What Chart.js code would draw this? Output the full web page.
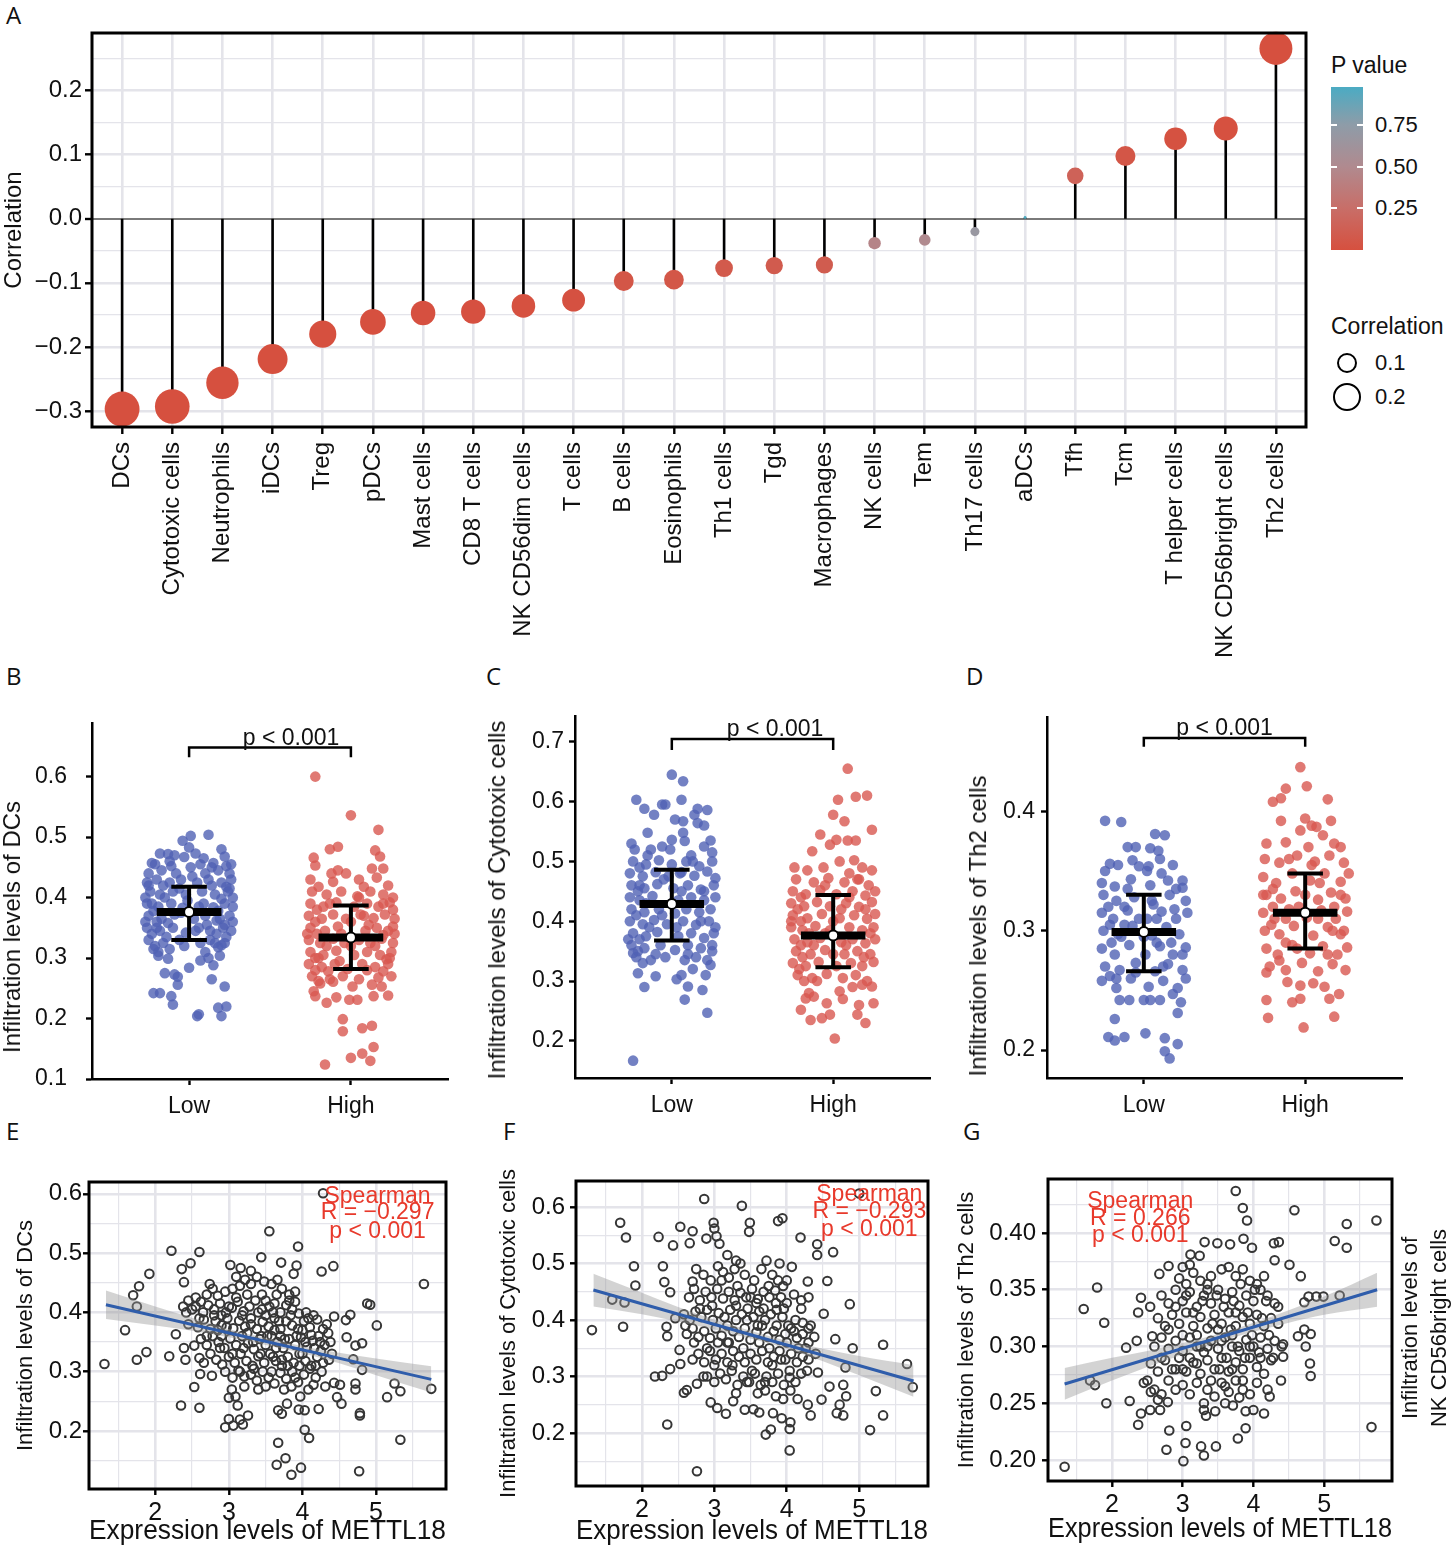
<!DOCTYPE html>
<html>
<head>
<meta charset="utf-8">
<script src="https://cdn.jsdelivr.net/npm/chart.js@4.4.1/dist/chart.umd.min.js"></script>
<style>
body { margin: 0; width: 1453px; height: 1548px; position: relative; background: #fff; overflow: hidden;
       font-family: "Liberation Sans", Arial, sans-serif; color: #111; }
canvas { position: absolute; }
.letter { position: absolute; font-family: "Open Sans", sans-serif; font-size: 24px; line-height: 24px; }
.txt { position: absolute; white-space: nowrap; line-height: 1; transform: translateY(-50%); }
.ytitle { position: absolute; white-space: nowrap; font-size: 24px; line-height: 1; transform: translate(-50%, -50%) rotate(-90deg); }
.tickw { position: absolute; width: 6px; height: 2px; background: #fff; }
</style>
</head>
<body>

<div class="letter" style="left:6px;top:3px">A</div>
<div class="letter" style="left:6px;top:664px">B</div>
<div class="letter" style="left:486px;top:664px">C</div>
<div class="letter" style="left:966px;top:664px">D</div>
<div class="letter" style="left:6px;top:1119px">E</div>
<div class="letter" style="left:503px;top:1119px">F</div>
<div class="letter" style="left:963px;top:1119px">G</div>

<canvas id="cA" width="1320" height="680" style="left:0;top:0"></canvas>
<canvas id="cB" width="470" height="440" style="left:0;top:690px"></canvas>
<canvas id="cC" width="470" height="440" style="left:480px;top:690px"></canvas>
<canvas id="cD" width="493" height="440" style="left:960px;top:690px"></canvas>
<canvas id="cE" width="470" height="418" style="left:0;top:1130px"></canvas>
<canvas id="cF" width="480" height="418" style="left:480px;top:1130px"></canvas>
<canvas id="cG" width="503" height="418" style="left:950px;top:1130px"></canvas>

<!-- legend of panel A -->
<div class="txt" style="left:1331px;top:65px;font-size:23px">P value</div>
<div id="pbar" style="position:absolute;left:1331px;top:87px;width:32px;height:163px"></div>
<div class="tickw" style="left:1331px;top:124px"></div><div class="tickw" style="left:1357px;top:124px"></div>
<div class="tickw" style="left:1331px;top:166px"></div><div class="tickw" style="left:1357px;top:166px"></div>
<div class="tickw" style="left:1331px;top:207px"></div><div class="tickw" style="left:1357px;top:207px"></div>
<div class="txt" style="left:1375px;top:125px;font-size:22px">0.75</div>
<div class="txt" style="left:1375px;top:167px;font-size:22px">0.50</div>
<div class="txt" style="left:1375px;top:208px;font-size:22px">0.25</div>
<div class="txt" style="left:1331px;top:326px;font-size:23px">Correlation</div>
<div id="s1" style="position:absolute;border:2.5px solid #000;border-radius:50%;box-sizing:border-box"></div>
<div id="s2" style="position:absolute;border:2.5px solid #000;border-radius:50%;box-sizing:border-box"></div>
<div class="txt" style="left:1375px;top:363px;font-size:22px">0.1</div>
<div class="txt" style="left:1375px;top:397px;font-size:22px">0.2</div>

<!-- y titles of B, C, D -->
<div class="ytitle" style="left:12px;top:927px">Infiltration levels of DCs</div>
<div class="ytitle" style="left:497px;top:900px">Infiltration levels of Cytotoxic cells</div>
<div class="ytitle" style="left:978px;top:926px">Infiltration levels of Th2 cells</div>

<!-- stray label at the right of G -->
<div class="ytitle" style="left:1410px;top:1328px;font-size:22px">Infiltration levels of</div>
<div class="ytitle" style="left:1439px;top:1328px;font-size:22px">NK CD56bright cells</div>

<script>
// ---------- panel A ----------
const cells = ['DCs', 'Cytotoxic cells', 'Neutrophils', 'iDCs', 'Treg', 'pDCs', 'Mast cells', 'CD8 T cells',
  'NK CD56dim cells', 'T cells', 'B cells', 'Eosinophils', 'Th1 cells', 'Tgd', 'Macrophages', 'NK cells', 'Tem',
  'Th17 cells', 'aDCs', 'Tfh', 'Tcm', 'T helper cells', 'NK CD56bright cells', 'Th2 cells'];
const corr = [-0.297, -0.293, -0.256, -0.219, -0.180, -0.161, -0.147, -0.145, -0.136, -0.127, -0.097, -0.095,
  -0.077, -0.073, -0.072, -0.038, -0.033, -0.020, 0.002, 0.067, 0.098, 0.125, 0.141, 0.266];
const pval = [0.001, 0.001, 0.001, 0.001, 0.001, 0.002, 0.004, 0.004, 0.007, 0.011, 0.05, 0.055,
  0.08, 0.09, 0.10, 0.45, 0.50, 0.68, 0.97, 0.15, 0.05, 0.013, 0.005, 0.001];
const corrTicks = [-0.3, -0.25, -0.2, -0.15, -0.1, -0.05, 0, 0.05, 0.1, 0.15, 0.2, 0.25];
const corrTickLabels = ['\u22120.3', '', '\u22120.2', '', '\u22120.1', '', '0.0', '', '0.1', '', '0.2', ''];
const legendSizes = [0.1, 0.2];

// ---------- panels B, C, D ----------
const groups = ['Low', 'High'];
const dcLow = [[0.01,0.502],[0.12,0.504],[-0.04,0.494],[0,0.483],[-0.18,0.473],[-0.13,0.472],[-0.09,0.470],[-0.03,0.467],[0.04,0.473],[0.20,0.480],[0.22,0.468],[-0.23,0.457],[0.23,0.452],[0.15,0.457],[-0.11,0.452],
  [-0.22,0.242],[-0.18,0.242],[-0.11,0.237],[-0.10,0.223],[0.05,0.204],[0.06,0.207],[0.20,0.204],[0.23,0.220],[0.18,0.218],[0.22,0.253],[0.14,0.265],[0.0,0.284],[-0.07,0.256],[-0.15,0.275],[-0.09,0.273],[-0.07,0.269],[-0.13,0.299],[-0.19,0.304],[0.07,0.296],[0.15,0.288],[0.19,0.304],[-0.22,0.315],[0.2,0.321],
  [-0.25,0.44],[-0.17,0.445],[-0.08,0.44],[0.02,0.435],[0.1,0.44],[0.18,0.445],[0.25,0.44],[-0.21,0.455],[0.14,0.45],[0.07,0.455],
  [-0.26,0.425],[-0.2,0.43],[-0.12,0.425],[-0.05,0.43],[0.05,0.425],[0.12,0.43],[0.2,0.425],[0.26,0.43],[-0.16,0.42],[0.23,0.418],
  [-0.24,0.41],[-0.18,0.405],[-0.1,0.41],[-0.02,0.405],[0.08,0.41],[0.16,0.405],[0.24,0.41],[-0.27,0.4],[0.27,0.4],[0.2,0.398],
  [-0.26,0.39],[-0.19,0.385],[-0.11,0.39],[-0.04,0.383],[0.09,0.39],[0.15,0.384],[0.22,0.39],[0.27,0.385],[-0.22,0.378],[0.18,0.378],
  [-0.25,0.37],[-0.17,0.365],[-0.09,0.372],[0.03,0.365],[0.1,0.37],[0.17,0.362],[0.25,0.37],[-0.2,0.36],[0.22,0.355],[-0.13,0.358],
  [-0.26,0.35],[-0.18,0.345],[-0.1,0.35],[-0.02,0.342],[0.06,0.35],[0.13,0.345],[0.21,0.35],[0.26,0.345],[-0.23,0.34],[0.17,0.34],
  [-0.25,0.33],[-0.16,0.325],[-0.06,0.33],[0.07,0.325],[0.13,0.33],[0.22,0.325],[-0.21,0.32],[0.18,0.318],[-0.12,0.315],[0.1,0.31],
  [-0.27,0.36],[0.27,0.36],[-0.01,0.395],[0.04,0.345],[-0.14,0.335],[0.11,0.355],[-0.05,0.375],[0.19,0.365],[-0.23,0.39],[0.25,0.415],[-0.06,0.415],[0.14,0.42],[-0.15,0.4],[0.06,0.385],[-0.2,0.35],[0.23,0.335],[-0.03,0.32],[0.16,0.325],[-0.25,0.42],[0.01,0.45],[-0.12,0.46],[0.09,0.465],[0.26,0.455],[-0.19,0.31],[0.12,0.3]];
const dcHigh = [[-0.22,0.600],[0,0.536],[0.17,0.512],[-0.13,0.480],[-0.08,0.484],[0.15,0.478],[0.18,0.468],[-0.23,0.466],[-0.22,0.453],[-0.08,0.445],[-0.03,0.440],[0.13,0.448],[0.2,0.448],[0.16,0.433],[-0.11,0.426],
  [-0.05,0.199],[-0.05,0.179],[0.07,0.184],[0.13,0.188],[0.14,0.153],[0.07,0.142],[0,0.135],[0.12,0.130],[-0.16,0.124],[-0.23,0.245],[-0.22,0.237],[-0.15,0.226],[-0.09,0.235],[-0.01,0.231],[0.04,0.231],[0.14,0.237],[0.23,0.238],[0.19,0.253],[0.13,0.256],[0.01,0.253],[-0.11,0.261],[-0.19,0.258],
  [-0.24,0.41],[-0.15,0.405],[-0.06,0.41],[0.04,0.402],[0.12,0.41],[0.2,0.405],[0.26,0.4],[-0.2,0.418],[0.08,0.418],
  [-0.25,0.39],[-0.17,0.385],[-0.09,0.392],[0.02,0.385],[0.1,0.39],[0.17,0.385],[0.24,0.392],[-0.21,0.38],[0.26,0.38],
  [-0.26,0.37],[-0.18,0.365],[-0.11,0.372],[-0.03,0.365],[0.06,0.372],[0.14,0.366],[0.21,0.372],[0.27,0.365],[-0.22,0.36],
  [-0.25,0.35],[-0.16,0.345],[-0.08,0.352],[0.09,0.345],[0.16,0.35],[0.23,0.345],[-0.21,0.34],[0.2,0.338],[0.26,0.352],
  [-0.26,0.33],[-0.19,0.325],[-0.11,0.332],[-0.04,0.325],[0.05,0.33],[0.12,0.325],[0.19,0.332],[0.26,0.325],[-0.15,0.32],
  [-0.25,0.31],[-0.17,0.305],[-0.09,0.312],[0.02,0.305],[0.1,0.31],[0.18,0.305],[0.25,0.31],[-0.22,0.3],[0.22,0.298],
  [-0.26,0.29],[-0.18,0.285],[-0.1,0.29],[-0.02,0.282],[0.07,0.29],[0.15,0.285],[0.23,0.29],[-0.14,0.278],[0.2,0.278],[0.25,0.27],
  [-0.24,0.27],[-0.13,0.265],[-0.05,0.27],[0.05,0.265],[0.17,0.268],[-0.2,0.262],
  [-0.27,0.34],[0.27,0.34],[0.0,0.36],[-0.06,0.34],[0.11,0.355],[-0.13,0.39],[0.05,0.4],[0.2,0.39],[-0.2,0.3],[0.0,0.32],[0.15,0.32],[-0.07,0.295],[0.1,0.28],[-0.25,0.43],[0.23,0.42],[-0.12,0.44],[0.05,0.43],[-0.22,0.28],[0.24,0.3],[0.08,0.37]];
const dcMean = [0.376, 0.334], dcLower = [0.330, 0.282], dcUpper = [0.418, 0.387];
const dcTicks = [0.1, 0.2, 0.3, 0.4, 0.5, 0.6];
const dcBracket = [0.632, 0.648];

const cytoLow = [[0,0.645],[0.07,0.634],[-0.22,0.603],[-0.17,0.588],[-0.11,0.578],[-0.06,0.595],[-0.04,0.595],[0.06,0.603],[0.02,0.57],[0.07,0.567],[0.14,0.578],[0.16,0.588],[0.22,0.586],[0.16,0.564],[0.07,0.548],[0,0.536],[0.08,0.534],[-0.15,0.548],
  [-0.24,0.167],[0.22,0.247],[0.08,0.269],[0.1,0.291],[0.19,0.285],[-0.17,0.29],[-0.1,0.308],[0.03,0.303],[0.06,0.31],[0.24,0.327],[0.21,0.31],[-0.21,0.313],[-0.24,0.347],
  [-0.25,0.53],[-0.23,0.52],[-0.15,0.51],[-0.06,0.525],[0.2,0.525],[0.24,0.535],[0.25,0.515],[0.12,0.51],
  [-0.24,0.5],[-0.16,0.495],[-0.08,0.502],[0.0,0.495],[0.09,0.5],[0.17,0.492],[0.25,0.5],[-0.2,0.49],
  [-0.26,0.48],[-0.18,0.475],[-0.1,0.482],[-0.02,0.475],[0.06,0.482],[0.14,0.476],[0.22,0.483],[0.27,0.472],
  [-0.25,0.46],[-0.17,0.455],[-0.09,0.462],[0.01,0.455],[0.1,0.46],[0.18,0.453],[0.26,0.46],[-0.21,0.45],
  [-0.26,0.44],[-0.2,0.435],[-0.12,0.442],[0.04,0.435],[0.12,0.44],[0.2,0.435],[0.27,0.44],[-0.16,0.43],
  [-0.25,0.42],[-0.17,0.415],[-0.08,0.42],[0.02,0.413],[0.09,0.42],[0.17,0.415],[0.24,0.42],[-0.22,0.41],
  [-0.26,0.4],[-0.18,0.395],[-0.11,0.402],[-0.03,0.395],[0.07,0.4],[0.15,0.394],[0.23,0.4],[0.27,0.39],
  [-0.24,0.38],[-0.16,0.375],[-0.09,0.382],[0.04,0.375],[0.12,0.38],[0.2,0.372],[0.26,0.38],[-0.2,0.37],
  [-0.25,0.36],[-0.17,0.355],[-0.07,0.36],[0.02,0.352],[0.1,0.36],[0.18,0.355],[0.25,0.36],[-0.21,0.35],
  [-0.22,0.34],[-0.13,0.335],[-0.04,0.34],[0.08,0.335],[0.15,0.34],[0.22,0.335],[-0.18,0.33],[0.13,0.32],
  [0.0,0.43],[0.06,0.45],[-0.05,0.47],[0.13,0.5],[-0.13,0.52],[0.18,0.4],[-0.14,0.39],[0.03,0.39],[-0.06,0.41],[0.2,0.45],[-0.2,0.46],[0.1,0.345],[-0.1,0.345],[0.25,0.35],[-0.27,0.37],[0.05,0.48],[-0.01,0.52],[0.2,0.56]];
const cytoHigh = [[0.09,0.655],[0.03,0.603],[0.14,0.608],[0.21,0.61],[0,0.578],[0.07,0.567],[0.24,0.553],[-0.08,0.545],[-0.02,0.528],[0.02,0.536],[0.09,0.535],[0.14,0.535],[-0.13,0.517],[0.04,0.5],[0.13,0.502],
  [0.01,0.204],[-0.14,0.235],[-0.07,0.238],[-0.02,0.244],[-0.2,0.252],[0.15,0.244],[0.2,0.23],[0.25,0.263],[0.16,0.26],[-0.17,0.271],[-0.12,0.274],[-0.04,0.263],[0.04,0.283],[0.18,0.294],[0.24,0.291],
  [-0.24,0.49],[-0.16,0.485],[-0.06,0.49],[0.1,0.48],[0.18,0.49],[0.24,0.485],
  [-0.23,0.47],[-0.12,0.465],[-0.03,0.472],[0.07,0.465],[0.16,0.47],[0.22,0.46],
  [-0.25,0.45],[-0.17,0.445],[-0.08,0.452],[0.02,0.445],[0.12,0.45],[0.2,0.443],[0.26,0.45],
  [-0.26,0.43],[-0.18,0.425],[-0.1,0.432],[-0.02,0.425],[0.08,0.43],[0.16,0.424],[0.24,0.432],[-0.22,0.42],
  [-0.25,0.41],[-0.16,0.405],[-0.07,0.412],[0.04,0.405],[0.13,0.41],[0.21,0.404],[0.26,0.412],[-0.2,0.4],
  [-0.26,0.39],[-0.19,0.385],[-0.11,0.392],[-0.02,0.385],[0.1,0.39],[0.18,0.385],[0.25,0.39],[-0.15,0.38],
  [-0.24,0.37],[-0.16,0.365],[-0.08,0.372],[0.05,0.365],[0.12,0.37],[0.2,0.363],[0.26,0.37],[-0.2,0.36],
  [-0.23,0.35],[-0.14,0.345],[-0.05,0.352],[0.07,0.345],[0.15,0.35],[0.23,0.345],[-0.19,0.34],[0.19,0.34],
  [-0.25,0.33],[-0.17,0.325],[-0.09,0.332],[0.02,0.325],[0.11,0.33],[0.18,0.325],[0.25,0.332],[-0.21,0.32],
  [-0.22,0.31],[-0.13,0.305],[-0.04,0.312],[0.06,0.305],[0.14,0.31],[0.21,0.3],[-0.18,0.3],
  [0.0,0.4],[-0.05,0.38],[0.08,0.36],[-0.12,0.36],[0.2,0.42],[-0.2,0.44],[0.1,0.44],[-0.1,0.3],[0.12,0.29],[0.0,0.345],[0.23,0.38],[-0.26,0.4],[0.05,0.42],[-0.05,0.46],[0.15,0.47],[-0.15,0.28],[0.06,0.27]];
const cytoMean = [0.429, 0.376], cytoLower = [0.368, 0.323], cytoUpper = [0.486, 0.444];
const cytoTicks = [0.2, 0.3, 0.4, 0.5, 0.6, 0.7];
const cytoBracket = [0.686, 0.7045];

const th2Low = [[-0.24,0.392],[-0.14,0.391],[0.07,0.381],[0.13,0.38],[-0.1,0.37],[-0.05,0.37],[0.04,0.369],[0.09,0.367],[0.1,0.36],[-0.21,0.356],[-0.16,0.355],[-0.07,0.359],[-0.03,0.354],[0.03,0.354],[0.11,0.348],[0.24,0.342],
  [0.16,0.193],[0.13,0.199],[0.21,0.205],[0.13,0.21],[0.01,0.214],[-0.22,0.211],[-0.18,0.208],[-0.12,0.211],[-0.18,0.226],[0.21,0.231],[0.23,0.24],[0,0.242],[0.04,0.242],[0.1,0.242],[-0.09,0.242],[-0.15,0.242],[0.18,0.247],
  [-0.26,0.34],[-0.18,0.337],[-0.08,0.343],[0.04,0.338],[0.15,0.342],[0.24,0.336],
  [-0.25,0.33],[-0.17,0.325],[-0.06,0.328],[0.06,0.322],[0.16,0.33],[0.26,0.325],[-0.22,0.32],
  [-0.26,0.315],[-0.19,0.31],[-0.1,0.317],[0.02,0.31],[0.11,0.316],[0.2,0.31],[0.27,0.315],
  [-0.25,0.3],[-0.16,0.297],[-0.07,0.304],[0.05,0.296],[0.14,0.303],[0.22,0.297],[-0.21,0.305],
  [-0.26,0.285],[-0.18,0.28],[-0.09,0.288],[0.01,0.28],[0.1,0.287],[0.18,0.28],[0.26,0.286],
  [-0.24,0.27],[-0.15,0.267],[-0.05,0.273],[0.07,0.266],[0.15,0.272],[0.24,0.267],[-0.21,0.262],
  [-0.26,0.258],[-0.17,0.252],[-0.08,0.26],[0.03,0.253],[0.12,0.258],[0.21,0.252],[0.26,0.26],
  [-0.12,0.32],[0.08,0.29],[-0.03,0.31],[0.19,0.318],[-0.14,0.295],
  [0.0,0.295],[0.08,0.31],[-0.12,0.305],[0.17,0.29],[-0.2,0.29],[0.05,0.325],[-0.1,0.335],[0.2,0.335],[-0.05,0.265],[0.12,0.27],[-0.17,0.26],[0.24,0.28],[0.02,0.35],[-0.24,0.35],[0.18,0.355]];
const th2High = [[-0.03,0.437],[0.01,0.421],[-0.12,0.419],[-0.2,0.408],[-0.15,0.411],[0.14,0.41],[-0.15,0.392],[0,0.394],[0.16,0.392],[-0.03,0.384],[0.04,0.388],[0.07,0.387],[-0.24,0.373],[-0.12,0.374],[0.22,0.37],[0.18,0.373],
  [-0.01,0.219],[-0.23,0.227],[0.18,0.228],[-0.24,0.242],[-0.08,0.24],[-0.03,0.243],[0.15,0.243],[0.21,0.247],[-0.24,0.265],[-0.11,0.257],[-0.03,0.254],[0.05,0.256],[0.12,0.253],
  [-0.25,0.36],[-0.16,0.357],[-0.05,0.363],[0.06,0.358],[0.15,0.363],[0.24,0.357],
  [-0.26,0.345],[-0.18,0.34],[-0.08,0.348],[0.03,0.342],[0.12,0.348],[0.22,0.341],[0.27,0.348],
  [-0.24,0.33],[-0.15,0.327],[-0.06,0.333],[0.08,0.326],[0.16,0.332],[0.25,0.327],[-0.2,0.335],
  [-0.26,0.315],[-0.19,0.31],[-0.1,0.318],[0.01,0.311],[0.1,0.317],[0.19,0.31],[0.26,0.316],
  [-0.25,0.3],[-0.16,0.297],[-0.07,0.304],[0.05,0.296],[0.14,0.303],[0.22,0.297],[-0.21,0.305],
  [-0.24,0.285],[-0.17,0.28],[-0.08,0.288],[0.03,0.281],[0.11,0.287],[0.2,0.28],[0.26,0.286],
  [-0.22,0.27],[-0.12,0.267],[-0.02,0.273],[0.08,0.266],[0.17,0.272],[0.25,0.267],
  [0.09,0.34],[-0.12,0.29],[0.18,0.32],[-0.04,0.32],
  [0.0,0.33],[0.08,0.31],[-0.12,0.31],[0.17,0.3],[-0.2,0.32],[0.04,0.355],[-0.1,0.36],[0.22,0.33],[-0.05,0.285],[0.14,0.28],[-0.16,0.275],[0.24,0.3],[0.02,0.37],[-0.26,0.33],[0.11,0.38]];
const th2Mean = [0.299, 0.315], th2Lower = [0.266, 0.285], th2Upper = [0.330, 0.348];
const th2Ticks = [0.2, 0.3, 0.4];
const th2Bracket = [0.454, 0.4615];

// ---------- panels E, F, G ----------
const exprTicks = [1.5, 2, 2.5, 3, 3.5, 4, 4.5, 5, 5.5];
const exprTickLabels = ['', '2', '', '3', '', '4', '', '5', ''];
const dcScatter = [[1.31,0.313],[1.59,0.370],[1.75,0.320],[1.88,0.333],[1.70,0.429],[1.78,0.444],[1.75,0.410],[1.92,0.465],[2.22,0.504],[2.60,0.502],[2.48,0.483],[2.36,0.473],[2.39,0.451],[2.19,0.326],[2.28,0.363],[2.35,0.243],[2.60,0.239],[2.53,0.274],[2.41,0.320],[2.39,0.340],[2.61,0.296],[2.60,0.323],[2.53,0.344],[2.77,0.293],[2.74,0.448],[3.02,0.480],[3.16,0.475],[3.44,0.493],[3.55,0.537],[3.71,0.484],[3.94,0.511],[3.92,0.479],[3.88,0.465],[4.26,0.469],[4.42,0.478],[4.28,0.601],[5.65,0.448],[5.01,0.378],[4.92,0.413],[4.88,0.415],[4.81,0.348],[4.72,0.344],[4.59,0.387],[4.65,0.396],[4.43,0.393],[4.60,0.358],[4.81,0.303],[4.69,0.321],[4.72,0.280],[4.72,0.270],[4.78,0.230],[4.78,0.226],[4.51,0.278],[4.53,0.246],[4.47,0.257],[5.15,0.257],[5.25,0.280],[5.33,0.267],[5.75,0.271],[5.33,0.185],[4.77,0.132],[4.43,0.281],[4.31,0.275],[4.22,0.237],[4.03,0.235],[3.95,0.236],[3.97,0.258],[4.03,0.202],[4.09,0.188],[3.98,0.138],[3.85,0.126],[3.65,0.143],[3.77,0.154],[3.67,0.180],[3.67,0.235],[3.72,0.229],[3.79,0.246],[2.95,0.206],[3.06,0.209],[3.00,0.220],[3.15,0.219],[3.19,0.211],[3.26,0.226],[3.12,0.243],[3.00,0.256],[3.09,0.258],[3.04,0.270],[3.21,0.275],[3.21,0.292],
  [2.55,0.425],[2.62,0.418],[2.7,0.43],[2.78,0.44],[2.85,0.428],[2.95,0.435],[3.05,0.44],[3.15,0.445],[3.22,0.455],[3.3,0.448],[3.38,0.46],[3.48,0.452],[3.58,0.448],[3.66,0.455],[3.72,0.44],[3.82,0.43],[3.9,0.435],[3.3,0.47],[3.1,0.46],[2.45,0.42],[2.38,0.41],[2.5,0.405],
  [2.42,0.4],[2.55,0.41],[2.65,0.4],[2.72,0.412],[2.8,0.405],[2.88,0.415],[2.96,0.4],[3.04,0.408],[3.12,0.418],[3.2,0.402],[3.28,0.41],[3.36,0.42],[3.45,0.405],[3.55,0.41],[3.62,0.415],[3.7,0.4],[3.78,0.412],[3.86,0.405],[3.95,0.398],[4.05,0.4],[4.15,0.395],[3.82,0.42],[3.9,0.418],
  [2.45,0.38],[2.58,0.375],[2.66,0.388],[2.75,0.372],[2.82,0.385],[2.9,0.378],[2.98,0.39],[3.06,0.373],[3.14,0.386],[3.22,0.376],[3.3,0.39],[3.38,0.372],[3.46,0.384],[3.54,0.376],[3.62,0.39],[3.7,0.372],[3.78,0.385],[3.86,0.378],[3.94,0.372],[4.02,0.385],[4.1,0.375],[4.2,0.388],[4.28,0.372],[4.35,0.365],
  [2.62,0.355],[2.7,0.345],[2.78,0.36],[2.86,0.35],[2.94,0.34],[3.02,0.356],[3.1,0.345],[3.18,0.36],[3.26,0.348],[3.34,0.338],[3.42,0.355],[3.5,0.345],[3.58,0.36],[3.66,0.35],[3.74,0.34],[3.82,0.355],[3.9,0.345],[3.98,0.358],[4.06,0.342],[4.14,0.352],[4.22,0.36],[4.3,0.345],[4.38,0.35],[4.12,0.362],[4.0,0.33],
  [2.75,0.33],[2.83,0.32],[2.91,0.312],[3.0,0.325],[3.08,0.315],[3.16,0.33],[3.24,0.318],[3.32,0.31],[3.4,0.326],[3.48,0.315],[3.56,0.33],[3.64,0.318],[3.72,0.31],[3.8,0.325],[3.88,0.315],[3.96,0.33],[4.04,0.318],[4.12,0.31],[4.2,0.325],[4.28,0.315],[4.36,0.32],[2.66,0.315],
  [2.95,0.3],[3.05,0.29],[3.13,0.302],[3.3,0.295],[3.38,0.285],[3.46,0.3],[3.54,0.29],[3.62,0.28],[3.7,0.298],[3.78,0.288],[3.86,0.3],[3.94,0.282],[4.02,0.295],[4.1,0.305],[4.18,0.29],[4.26,0.3],[3.5,0.275],[3.4,0.27],[3.75,0.27],[3.85,0.275],[4.08,0.27],[4.15,0.278],
  [3.3,0.38],[3.5,0.395],[3.7,0.36],[3.2,0.34],[2.9,0.36],[3.6,0.325],[4.25,0.335],[2.9,0.395],[3.45,0.43],[3.65,0.43],
  [2.6,0.39],[2.7,0.36],[2.8,0.395],[2.88,0.34],[2.97,0.375],[3.05,0.33],[3.1,0.425],[3.18,0.395],[3.25,0.365],[3.33,0.35],[3.4,0.4],[3.43,0.33],[3.52,0.36],[3.6,0.4],[3.64,0.34],[3.68,0.385],[3.76,0.355],[3.8,0.31],[3.84,0.395],[3.92,0.36],[3.96,0.31],[4.0,0.37],[4.04,0.35],[4.08,0.39],[4.16,0.34],[4.18,0.31],[4.24,0.35],[4.33,0.38],[4.4,0.33],[3.34,0.305],[3.58,0.3],[3.9,0.29],[3.5,0.42],[3.25,0.43],[3.0,0.41],[2.85,0.37],[3.15,0.3],[3.72,0.32],[3.44,0.36],[3.62,0.37]];
const cytoScatter = [[1.31,0.382],[1.59,0.436],[1.76,0.431],[1.70,0.572],[1.78,0.546],[1.74,0.388],[1.89,0.495],[1.91,0.461],[2.23,0.547],[2.43,0.532],[2.53,0.565],[2.70,0.557],[2.66,0.536],[2.29,0.495],[2.31,0.467],[2.39,0.449],[2.86,0.614],[2.89,0.544],[2.99,0.572],[3.00,0.562],[3.03,0.548],[3.07,0.535],[3.38,0.602],[3.49,0.572],[3.48,0.556],[3.88,0.575],[3.94,0.580],[4.19,0.546],[4.42,0.534],[4.42,0.515],[4.64,0.520],[4.07,0.494],[4.29,0.468],[4.56,0.469],[4.87,0.428],[4.51,0.411],[5.00,0.624],[4.67,0.366],[4.91,0.350],[5.33,0.356],[5.66,0.322],[5.74,0.281],[5.23,0.274],[5.33,0.231],[5.15,0.205],[4.81,0.316],[4.78,0.285],[4.82,0.265],[4.73,0.250],[4.69,0.235],[4.78,0.231],[4.48,0.259],[4.59,0.282],[4.43,0.307],[4.33,0.231],[4.29,0.250],[4.04,0.169],[4.05,0.219],[4.04,0.207],[3.78,0.206],[3.71,0.197],[3.81,0.235],[3.93,0.226],[2.76,0.132],[2.35,0.215],[2.18,0.300],[2.28,0.301],[2.39,0.313],[2.53,0.322],[2.52,0.347],[2.58,0.271],[2.62,0.276],[2.76,0.287],[2.95,0.254],[3.04,0.244],[3.16,0.234],[3.26,0.256],[3.42,0.241],[3.54,0.242],[3.62,0.236],[2.35,0.371],[2.34,0.388],[2.46,0.403],
  [2.75,0.49],[2.85,0.48],[2.95,0.47],[3.05,0.495],[3.12,0.485],[3.2,0.475],[3.28,0.49],[3.36,0.5],[3.42,0.48],[3.55,0.47],[3.65,0.49],[3.72,0.505],[3.8,0.48],[3.88,0.47],[3.95,0.46],[3.18,0.515],[3.3,0.505],[2.7,0.468],
  [2.65,0.44],[2.72,0.455],[2.8,0.435],[2.88,0.45],[2.96,0.44],[3.04,0.455],[3.12,0.438],[3.2,0.45],[3.28,0.435],[3.36,0.448],[3.44,0.44],[3.52,0.455],[3.6,0.437],[3.68,0.45],[3.76,0.44],[3.84,0.452],[3.92,0.44],[4.0,0.43],[4.1,0.445],[4.2,0.435],[4.3,0.44],
  [2.58,0.41],[2.66,0.4],[2.74,0.415],[2.82,0.405],[2.9,0.418],[2.98,0.4],[3.06,0.412],[3.14,0.405],[3.22,0.418],[3.3,0.4],[3.38,0.41],[3.46,0.42],[3.54,0.405],[3.62,0.415],[3.7,0.4],[3.78,0.41],[3.86,0.418],[3.94,0.405],[4.02,0.39],[4.12,0.4],[4.22,0.395],[4.3,0.385],
  [2.62,0.375],[2.7,0.385],[2.78,0.37],[2.86,0.38],[2.94,0.368],[3.02,0.385],[3.1,0.372],[3.18,0.36],[3.26,0.38],[3.34,0.37],[3.42,0.385],[3.5,0.365],[3.58,0.378],[3.66,0.39],[3.74,0.37],[3.82,0.38],[3.9,0.365],[3.98,0.375],[4.06,0.385],[4.14,0.368],[4.22,0.375],[4.3,0.36],[4.38,0.37],
  [2.7,0.33],[2.78,0.34],[2.86,0.325],[2.94,0.345],[3.02,0.33],[3.1,0.34],[3.18,0.325],[3.26,0.345],[3.34,0.335],[3.42,0.325],[3.5,0.34],[3.58,0.33],[3.66,0.345],[3.74,0.325],[3.82,0.335],[3.9,0.345],[3.98,0.33],[4.06,0.34],[4.14,0.325],[4.22,0.335],[4.3,0.33],[4.4,0.34],
  [2.9,0.3],[3.0,0.29],[3.08,0.305],[3.16,0.295],[3.24,0.31],[3.32,0.285],[3.4,0.3],[3.48,0.29],[3.56,0.305],[3.64,0.285],[3.72,0.3],[3.8,0.29],[3.88,0.305],[3.96,0.285],[4.04,0.298],[4.12,0.29],[4.2,0.305],[4.28,0.31],[3.6,0.27],[3.7,0.275],[3.85,0.265],[3.95,0.26],[4.05,0.275],[4.15,0.26],[3.3,0.27],
  [2.6,0.39],[2.72,0.36],[2.8,0.42],[2.9,0.35],[2.97,0.425],[3.05,0.36],[3.1,0.47],[3.18,0.39],[3.25,0.32],[3.32,0.46],[3.4,0.35],[3.45,0.4],[3.52,0.31],[3.58,0.43],[3.62,0.36],[3.68,0.42],[3.76,0.35],[3.8,0.32],[3.86,0.39],[3.92,0.33],[3.96,0.42],[4.0,0.36],[4.04,0.31],[4.1,0.38],[4.16,0.35],[4.2,0.42],[4.26,0.35],[4.33,0.39],[3.3,0.425],[3.5,0.44],[3.75,0.46],[3.9,0.5],[3.45,0.29],[3.7,0.29],[3.0,0.32],[2.85,0.3],[4.0,0.47],[3.6,0.39],[3.2,0.36],[3.85,0.43]];
const th2Scatter = [[1.33,0.194],[1.60,0.333],[1.79,0.352],[1.89,0.321],[1.69,0.270],[1.76,0.266],[1.92,0.250],[2.20,0.299],[2.25,0.252],[2.37,0.231],[2.41,0.241],[2.37,0.330],[2.41,0.343],[2.54,0.335],[2.35,0.305],[2.57,0.309],[2.80,0.371],[2.67,0.364],[2.81,0.226],[2.77,0.209],[3.01,0.199],[3.04,0.215],[3.05,0.230],[3.26,0.212],[3.30,0.204],[3.47,0.212],[3.11,0.381],[3.24,0.380],[3.31,0.392],[3.49,0.391],[3.67,0.390],[3.75,0.437],[3.85,0.422],[3.91,0.411],[3.86,0.395],[3.98,0.387],[4.58,0.420],[4.29,0.391],[4.36,0.392],[4.30,0.376],[4.51,0.372],[4.67,0.362],[5.15,0.393],[5.32,0.408],[5.32,0.387],[5.74,0.411],[5.67,0.229],[5.22,0.345],[4.99,0.344],[4.89,0.344],[4.78,0.344],[4.72,0.339],[4.63,0.309],[4.72,0.315],[4.81,0.311],[4.74,0.300],[4.80,0.285],[4.81,0.274],[4.42,0.302],[4.42,0.291],[4.39,0.270],[4.23,0.256],[4.15,0.241],[4.00,0.244],[3.89,0.243],[3.89,0.228],[3.78,0.219],[3.71,0.248],[3.46,0.243],[3.33,0.239],[3.30,0.244],[2.68,0.244],[2.54,0.244],[2.65,0.253],[2.79,0.251],
  [2.95,0.36],[3.05,0.355],[3.15,0.365],[3.25,0.358],[3.4,0.362],[3.55,0.368],[3.65,0.37],[3.75,0.362],[3.85,0.368],[3.95,0.358],[4.05,0.355],[4.15,0.362],[3.0,0.37],[3.1,0.372],
  [2.7,0.345],[2.8,0.338],[2.9,0.35],[3.0,0.34],[3.1,0.348],[3.2,0.335],[3.3,0.345],[3.4,0.338],[3.5,0.35],[3.6,0.342],[3.7,0.348],[3.8,0.336],[3.9,0.345],[4.0,0.34],[4.1,0.35],[4.2,0.345],[4.3,0.338],
  [2.65,0.325],[2.75,0.318],[2.85,0.328],[2.95,0.32],[3.05,0.33],[3.15,0.318],[3.25,0.326],[3.35,0.316],[3.45,0.328],[3.55,0.32],[3.65,0.33],[3.75,0.318],[3.85,0.326],[3.95,0.32],[4.05,0.328],[4.15,0.318],[4.25,0.325],[4.35,0.32],
  [2.6,0.3],[2.7,0.308],[2.8,0.298],[2.9,0.305],[3.0,0.296],[3.1,0.308],[3.2,0.3],[3.3,0.295],[3.4,0.305],[3.5,0.298],[3.6,0.308],[3.7,0.3],[3.8,0.296],[3.9,0.306],[4.0,0.3],[4.1,0.308],[4.2,0.298],[4.3,0.305],[4.4,0.3],
  [2.55,0.285],[2.65,0.278],[2.75,0.288],[2.85,0.28],[2.95,0.29],[3.05,0.278],[3.15,0.286],[3.25,0.276],[3.35,0.288],[3.45,0.28],[3.55,0.29],[3.65,0.278],[3.75,0.286],[3.85,0.28],[3.95,0.29],[4.05,0.282],[4.15,0.276],[4.25,0.288],
  [2.45,0.268],[2.6,0.262],[2.7,0.258],[2.8,0.27],[2.9,0.262],[3.0,0.266],[3.1,0.258],[3.2,0.268],[3.35,0.262],[3.45,0.256],[3.55,0.268],[3.65,0.26],[3.75,0.27],[3.85,0.262],[3.95,0.258],[4.05,0.268],[4.2,0.262],
  [2.5,0.27],[2.55,0.26],[3.3,0.25],[3.6,0.25],[3.8,0.255],[3.35,0.35],[3.5,0.315],[3.7,0.31],[3.2,0.285],[4.1,0.29],
  [2.7,0.29],[2.8,0.315],[2.9,0.335],[3.0,0.31],[3.05,0.345],[3.1,0.29],[3.15,0.33],[3.2,0.31],[3.28,0.34],[3.35,0.3],[3.42,0.32],[3.48,0.345],[3.52,0.28],[3.58,0.335],[3.62,0.29],[3.68,0.315],[3.72,0.34],[3.78,0.3],[3.82,0.355],[3.88,0.29],[3.92,0.33],[3.98,0.31],[4.02,0.35],[4.08,0.295],[4.12,0.325],[4.18,0.34],[4.22,0.31],[4.28,0.29],[4.35,0.335],[3.4,0.27],[3.6,0.265],[3.85,0.27],[3.0,0.28],[3.25,0.3],[3.7,0.28],[3.95,0.3],[2.9,0.28],[3.55,0.305],[3.35,0.355],[3.75,0.33]];
const fitX = [1.33, 5.75];
const dcFit = [0.413, 0.287], cytoFit = [0.453, 0.292], th2Fit = [0.267, 0.350];
const bandX = [1.33, 2, 2.5, 3, 3.5, 4, 4.5, 5, 5.75];
const dcBandHi = [0.437, 0.410, 0.391, 0.372, 0.357, 0.343, 0.332, 0.322, 0.309];
const dcBandLo = [0.389, 0.378, 0.369, 0.358, 0.345, 0.331, 0.314, 0.294, 0.265];
const cytoBandHi = [0.482, 0.448, 0.423, 0.401, 0.381, 0.363, 0.349, 0.336, 0.320];
const cytoBandLo = [0.424, 0.410, 0.397, 0.383, 0.367, 0.349, 0.327, 0.302, 0.264];
const th2BandHi = [0.281, 0.290, 0.296, 0.303, 0.311, 0.321, 0.332, 0.344, 0.365];
const th2BandLo = [0.253, 0.270, 0.282, 0.293, 0.304, 0.313, 0.321, 0.328, 0.335];

// ---------- helpers ----------
const F = '"Liberation Sans", Arial, sans-serif';
const GRID = '#e4e4ea';
const pStops = [[0, [214, 80, 63]], [0.25, [200, 110, 104]], [0.5, [176, 138, 143]], [0.75, [142, 156, 168]], [1, [68, 173, 198]]];
function pColor(p) {
  for (let i = 1; i < pStops.length; i++) {
    if (p <= pStops[i][0]) {
      const a = pStops[i - 1], b = pStops[i], t = (p - a[0]) / (b[0] - a[0]);
      const c = a[1].map((v, k) => Math.round(v + (b[1][k] - v) * t));
      return 'rgb(' + c.join(',') + ')';
    }
  }
  return 'rgb(68,173,198)';
}
function dotRadius(r) { return 32 * Math.sqrt(Math.abs(r)); }

// frame + free text drawn on top of a chart
Chart.register({
  id: 'extras',
  afterDraw(chart, args, opts) {
    const ctx = chart.ctx, a = chart.chartArea;
    ctx.save();
    if (opts.frame) {
      ctx.lineWidth = opts.frame;
      ctx.strokeStyle = '#000';
      ctx.strokeRect(a.left, a.top, a.right - a.left, a.bottom - a.top);
    }
    (opts.texts || []).forEach(t => {
      ctx.font = t.font;
      ctx.fillStyle = t.color || '#111';
      ctx.textAlign = 'center';
      ctx.textBaseline = t.baseline || 'middle';
      ctx.fillText(t.text, chart.scales.x.getPixelForValue(t.x), chart.scales.y.getPixelForValue(t.y) + (t.dy || 0));
    });
    ctx.restore();
  }
});

function seg(x1, y1, x2, y2, w, color) {
  return { type: 'line', data: [{ x: x1, y: y1 }, { x: x2, y: y2 }], borderColor: color || '#000', borderWidth: w,
    pointRadius: 0, order: 1, borderCapStyle: 'butt' };
}

const common = { responsive: false, animation: false, events: [] };
function pad(top, right) { return { autoPadding: false, padding: { left: 0, top: top, right: right, bottom: 0 } }; }

// ---------- panel A ----------
new Chart(document.getElementById('cA'), {
  type: 'scatter',
  data: {
    datasets: [
      { type: 'scatter', data: cells.map((c, i) => ({ x: i, y: corr[i] })), order: 0, clip: false,
        pointRadius: c => dotRadius(corr[c.dataIndex]), pointBorderWidth: 0,
        pointBackgroundColor: c => pColor(pval[c.dataIndex]) },
      ...cells.map((c, i) => seg(i, 0, i, corr[i], 2.6))
    ]
  },
  options: {
    ...common,
    layout: pad(33, 14),
    plugins: { legend: { display: false }, tooltip: { enabled: false }, extras: { frame: 3 } },
    scales: {
      x: {
        type: 'linear', min: -0.6, max: 23.6,
        afterBuildTicks: s => { s.ticks = cells.map((c, i) => ({ value: i })); },
        afterFit: s => { s.height = 253; },
        ticks: { callback: v => cells[v], autoSkip: false, minRotation: 90, maxRotation: 90, padding: 8,
          color: '#111', font: { family: F, size: 24 } },
        grid: { color: GRID, lineWidth: 2.6, tickColor: '#000', tickWidth: 2.4, tickLength: 7 },
        border: { display: false }
      },
      y: {
        type: 'linear', min: -0.325, max: 0.29,
        afterBuildTicks: s => { s.ticks = corrTicks.map(v => ({ value: v })); },
        afterFit: s => { s.width = 92; },
        ticks: { callback: (v, i) => corrTickLabels[i], padding: 3, color: '#111', font: { family: F, size: 24 } },
        grid: {
          color: c => c.tick.value === 0 ? '#7a7a7a' : GRID,
          lineWidth: c => c.tick.value === 0 ? 2 : (corrTickLabels[c.index] ? 2.6 : 1.3),
          tickColor: c => corrTickLabels[c.index] ? '#000' : 'rgba(0,0,0,0)', tickWidth: 2.4, tickLength: 7
        },
        border: { display: false },
        title: { display: true, text: 'Correlation', color: '#111', font: { family: F, size: 24, lineHeight: 1.2 }, padding: { top: 0, bottom: 0 } }
      }
    }
  }
});

// legend of panel A
(function () {
  const bar = document.getElementById('pbar');
  const topP = 0.976;
  const stops = pStops.filter(s => s[0] <= topP).map(s => pColor(s[0]) + ' ' + (s[0] / topP * 100).toFixed(1) + '%');
  stops.push(pColor(topP) + ' 100%');
  bar.style.background = 'linear-gradient(to top, ' + stops.join(', ') + ')';
  [['s1', 363], ['s2', 397]].forEach((s, k) => {
    const r = dotRadius(legendSizes[k]);
    const el = document.getElementById(s[0]);
    el.style.width = el.style.height = (2 * r) + 'px';
    el.style.left = (1347 - r) + 'px';
    el.style.top = (s[1] - r) + 'px';
  });
})();

// ---------- panels B, C, D ----------
function groupChart(id, low, high, mean, lower, upper, ticks, yMin, yMax, bracket, pX, geo) {
  const ds = [
    { type: 'scatter', data: low.map(p => ({ x: p[0], y: p[1] })), pointRadius: 5.3, pointBorderWidth: 0,
      pointBackgroundColor: 'rgba(80,98,180,0.8)', order: 3 },
    { type: 'scatter', data: high.map(p => ({ x: 1 + p[0], y: p[1] })), pointRadius: 5.3, pointBorderWidth: 0,
      pointBackgroundColor: 'rgba(216,88,80,0.8)', order: 3 }
  ];
  groups.forEach((g, i) => {
    ds.push(seg(i, lower[i], i, upper[i], 4));
    ds.push(seg(i - 0.11, upper[i], i + 0.11, upper[i], 4));
    ds.push(seg(i - 0.11, lower[i], i + 0.11, lower[i], 4));
    ds.push(seg(i - 0.2, mean[i], i + 0.2, mean[i], 8));
  });
  ds.push({ type: 'scatter', data: mean.map((m, i) => ({ x: i, y: m })), pointRadius: 5, pointBorderWidth: 2,
    pointBorderColor: '#000', pointBackgroundColor: '#fff', order: 0 });
  ds.push({ type: 'line', data: [{ x: 0, y: bracket[0] }, { x: 0, y: bracket[1] }, { x: 1, y: bracket[1] }, { x: 1, y: bracket[0] }],
    borderColor: '#000', borderWidth: 2.5, pointRadius: 0, order: 1, borderJoinStyle: 'miter' });
  const tickStyle = { drawOnChartArea: false, tickColor: '#000', tickWidth: 2.4, tickLength: 6 };
  new Chart(document.getElementById(id), {
    type: 'scatter',
    data: { datasets: ds },
    options: {
      ...common,
      layout: pad(geo.top, geo.right),
      plugins: { legend: { display: false }, tooltip: { enabled: false },
        extras: { texts: [{ x: pX, y: bracket[1], dy: -3, baseline: 'alphabetic', text: 'p < 0.001', font: '23px ' + F }] } },
      scales: {
        x: {
          type: 'linear', min: -0.6, max: 1.6,
          afterBuildTicks: s => { s.ticks = groups.map((g, i) => ({ value: i })); },
          afterFit: s => { s.height = geo.xh; },
          ticks: { callback: v => groups[v], padding: 8, color: '#111', font: { family: F, size: 23 } },
          grid: tickStyle, border: { display: true, color: '#000', width: 2.5 }
        },
        y: {
          type: 'linear', min: yMin, max: yMax,
          afterBuildTicks: s => { s.ticks = ticks.map(v => ({ value: v })); },
          afterFit: s => { s.width = geo.yw; },
          ticks: { callback: v => v.toFixed(1), padding: geo.pad, color: '#111', font: { family: F, size: 23 } },
          grid: tickStyle, border: { display: true, color: '#000', width: 2.5 }
        }
      }
    }
  });
}
groupChart('cB', dcLow, dcHigh, dcMean, dcLower, dcUpper, dcTicks, 0.1, 0.689, dcBracket, 0.63,
  { top: 27, right: 22, yw: 92, xh: 51, pad: 19 });
groupChart('cC', cytoLow, cytoHigh, cytoMean, cytoLower, cytoUpper, cytoTicks, 0.138, 0.743, cytoBracket, 0.64,
  { top: 26, right: 20, yw: 95, xh: 52, pad: 5 });
groupChart('cD', th2Low, th2High, th2Mean, th2Lower, th2Upper, th2Ticks, 0.1766, 0.479, th2Bracket, 0.5,
  { top: 27, right: 51, yw: 87, xh: 52, pad: 6 });

// ---------- panels E, F, G ----------
function corrChart(id, pts, fit, bandHi, bandLo, yTicks, yLabels, xr, yr, yTitle, stat, geo) {
  const lineCol = '#2f5dab';
  const grid = labels => ({
    color: GRID,
    lineWidth: c => labels[c.index] ? 2.6 : 1.2,
    tickColor: c => labels[c.index] ? '#000' : 'rgba(0,0,0,0)', tickWidth: 2.4, tickLength: 6
  });
  new Chart(document.getElementById(id), {
    type: 'scatter',
    data: {
      datasets: [
        { type: 'scatter', data: pts.map(p => ({ x: p[0], y: p[1] })), pointRadius: 4.3, pointBorderWidth: 2,
          pointBorderColor: '#363636', pointBackgroundColor: 'rgba(0,0,0,0)', order: 3 },
        { type: 'line', data: bandX.map((x, i) => ({ x: x, y: bandHi[i] })), borderWidth: 0, pointRadius: 0,
          fill: '+1', backgroundColor: 'rgba(150,150,150,0.42)', cubicInterpolationMode: 'monotone', order: 2 },
        { type: 'line', data: bandX.map((x, i) => ({ x: x, y: bandLo[i] })), borderWidth: 0, pointRadius: 0,
          fill: false, cubicInterpolationMode: 'monotone', order: 2 },
        { type: 'line', data: fitX.map((x, i) => ({ x: x, y: fit[i] })), borderColor: lineCol, borderWidth: 3,
          pointRadius: 0, order: 1 }
      ]
    },
    options: {
      ...common,
      layout: pad(geo.top, geo.right),
      plugins: {
        legend: { display: false }, tooltip: { enabled: false },
        extras: { frame: 3, texts: stat.lines.map((t, i) => ({ x: stat.x, y: stat.y[i], text: t, color: '#e8392b', font: '23px ' + F })) }
      },
      scales: {
        x: {
          type: 'linear', min: xr[0], max: xr[1],
          afterBuildTicks: s => { s.ticks = exprTicks.map(v => ({ value: v })); },
          afterFit: s => { s.height = geo.xh; },
          ticks: { callback: (v, i) => exprTickLabels[i], padding: 3, color: '#111', font: { family: F, size: 25 } },
          grid: grid(exprTickLabels), border: { display: false },
          title: { display: true, text: 'Expression levels of METTL18', color: '#111',
            font: { family: F, size: 27, lineHeight: 1.2 }, padding: { top: 0, bottom: geo.xtp } }
        },
        y: {
          type: 'linear', min: yr[0], max: yr[1],
          afterBuildTicks: s => { s.ticks = yTicks.map(v => ({ value: v })); },
          afterFit: s => { s.width = geo.yw; },
          ticks: { callback: (v, i) => yLabels[i], padding: geo.pad, color: '#111', font: { family: F, size: 24 } },
          grid: grid(yLabels), border: { display: false },
          title: { display: true, text: yTitle, color: '#111', font: { family: F, size: 22, lineHeight: 1.2 },
            padding: { top: geo.ytp, bottom: 0 } }
        }
      }
    }
  });
}
corrChart('cE', dcScatter, dcFit, dcBandHi, dcBandLo,
  [0.15, 0.2, 0.25, 0.3, 0.35, 0.4, 0.45, 0.5, 0.55, 0.6], ['', '0.2', '', '0.3', '', '0.4', '', '0.5', '', '0.6'],
  [1.10, 5.95], [0.102, 0.62], 'Infiltration levels of DCs',
  { x: 5.02, y: [0.596, 0.569, 0.537], lines: ['Spearman', 'R = \u22120.297', 'p < 0.001'] },
  { top: 52, right: 24, yw: 89, xh: 59, pad: 1, ytp: 13, xtp: 0 });
corrChart('cF', cytoScatter, cytoFit, cytoBandHi, cytoBandLo,
  [0.15, 0.2, 0.25, 0.3, 0.35, 0.4, 0.45, 0.5, 0.55, 0.6], ['', '0.2', '', '0.3', '', '0.4', '', '0.5', '', '0.6'],
  [1.09, 5.95], [0.106, 0.646], 'Infiltration levels of Cytotoxic cells',
  { x: 5.14, y: [0.621, 0.591, 0.559], lines: ['Spearman', 'R = \u22120.293', 'p < 0.001'] },
  { top: 51, right: 32, yw: 96, xh: 62, pad: 5, ytp: 16, xtp: 0 });
corrChart('cG', th2Scatter, th2Fit, th2BandHi, th2BandLo,
  [0.2, 0.225, 0.25, 0.275, 0.3, 0.325, 0.35, 0.375, 0.4, 0.425], ['0.20', '', '0.25', '', '0.30', '', '0.35', '', '0.40', ''],
  [1.095, 5.96], [0.1815, 0.4476], 'Infiltration levels of Th2 cells',
  { x: 2.40, y: [0.4273, 0.4123, 0.3973], lines: ['Spearman', 'R = 0.266', 'p < 0.001'] },
  { top: 49, right: 61, yw: 98, xh: 67, pad: 6, ytp: 4, xtp: 2 });
</script>
</body>
</html>
